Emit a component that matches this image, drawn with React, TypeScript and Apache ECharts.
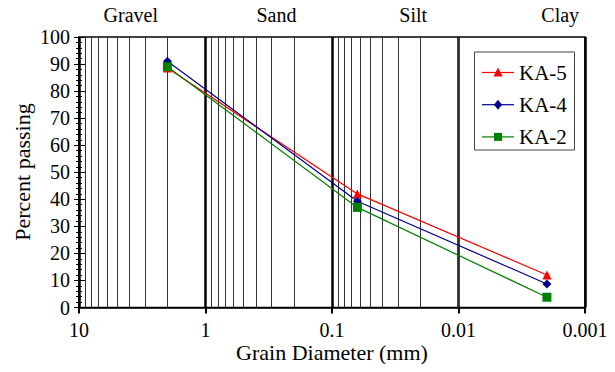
import React, { useEffect, useRef } from "react";
import * as echarts from "echarts";

const diameters = [2, 0.063, 0.002];
const ka5 = [88.5, 42, 12];
const ka4 = [91, 39.3, 8.7];
const ka2 = [89, 37, 3.8];
const seriesNames = ["KA-5", "KA-4", "KA-2"];
const seriesColors = ["#ff0000", "#00008b", "#008000"];
const zoneLabels = ["Gravel", "Sand", "Silt", "Clay"];
const zoneCenters = [3.9, 0.275, 0.0228, 0.00157];
const decades = [10, 1, 0.1, 0.01];
const minorMultipliers = [2, 3, 4, 5, 6, 7, 8, 9];
const xTickValues = [10, 1, 0.1, 0.01, 0.001];
const xTickLabels = ["10", "1", "0.1", "0.01", "0.001"];
const yTickValues = [0, 10, 20, 30, 40, 50, 60, 70, 80, 90, 100];

const FONT = "Liberation Serif";

export default function App() {
  const ref = useRef<HTMLDivElement>(null);
  useEffect(() => {
    const chart = echarts.init(ref.current!, null, { renderer: "svg" });
    const minorLines: any[] = [];
    decades.forEach((d) => {
      minorMultipliers.forEach((m) => {
        minorLines.push({ xAxis: +(d * m / 10).toPrecision(3) });
      });
    });
    const mk = (name: string, data: number[], color: string, symbol: string, size: number) => ({
      name,
      type: "line",
      data: diameters.map((d, i) => [d, data[i]]),
      symbol,
      symbolSize: size,
      itemStyle: { color },
      lineStyle: { color, width: 1.2 },
      z: 5,
    });
    chart.setOption({
      animation: false,
      grid: { left: 79, right: 30, top: 37, bottom: 64.5 },
      xAxis: {
        type: "log",
        logBase: 10,
        min: 0.001,
        max: 10,
        inverse: true,
        axisLine: { lineStyle: { color: "#000", width: 1.5 } },
        axisTick: { show: true, length: 6, lineStyle: { color: "#000", width: 2 } },
        axisLabel: { show: false },
        splitLine: { show: true, lineStyle: { color: "#000", width: 2.5 } },
      },
      yAxis: [
        {
          type: "value",
          min: 0,
          max: 100,
          interval: 10,
          axisLine: { show: true, lineStyle: { color: "#000", width: 1.5 } },
          axisTick: { show: true, length: 5, lineStyle: { color: "#000" } },
          minorTick: { show: true, splitNumber: 5, length: 3, lineStyle: { color: "#000" } },
          axisLabel: { show: false },
          splitLine: { show: false },
        },
        {
          type: "value",
          min: 0,
          max: 100,
          interval: 10,
          position: "left",
          axisLine: { show: false },
          axisTick: { show: true, inside: true, length: 6, lineStyle: { color: "#000" } },
          minorTick: { show: true, splitNumber: 5, length: 3, lineStyle: { color: "#000" } },
          axisLabel: { show: false },
          splitLine: { show: false },
        },
      ],
      series: [
        {
          type: "scatter",
          name: "minor",
          data: [],
          silent: true,
          markLine: {
            silent: true,
            symbol: "none",
            label: { show: false },
            lineStyle: { color: "#333", width: 1, type: "solid" },
            data: minorLines,
          },
        },
        mk("KA-5", ka5, seriesColors[0], "triangle", 9),
        mk("KA-4", ka4, seriesColors[1], "diamond", 9),
        mk("KA-2", ka2, seriesColors[2], "rect", 9),
      ],
    });

    const txt = (text: string, x: number, y: number, size: number, align: string, vAlign: string, rotation = 0) => ({
      type: "text",
      x,
      y,
      rotation,
      z: 20,
      silent: true,
      style: {
        text,
        x: 0,
        y: 0,
        font: size + "px " + FONT,
        fill: "#000",
        align,
        textAlign: align,
        verticalAlign: vAlign,
        textVerticalAlign: vAlign,
      },
    });

    const g: any[] = [
      { type: "rect", shape: { x: 79, y: 37, width: 506, height: 270.5 }, style: { fill: "none", stroke: "#000", lineWidth: 1.5 }, z: 1, silent: true },
    ];
    const axisY = chart.convertToPixel({ yAxisIndex: 0 }, 0) as number;
    const axisX = chart.convertToPixel({ xAxisIndex: 0 }, 10) as number;
    yTickValues.forEach((v) => {
      const py = chart.convertToPixel({ yAxisIndex: 0 }, v) as number;
      g.push(txt(String(v), axisX - 9, py, 20, "right", "middle"));
    });
    xTickValues.forEach((v, i) => {
      const px = chart.convertToPixel({ xAxisIndex: 0 }, v) as number;
      g.push(txt(xTickLabels[i], px, axisY + 22, 20, "center", "middle"));
    });
    zoneLabels.forEach((name, i) => {
      const px = chart.convertToPixel({ xAxisIndex: 0 }, zoneCenters[i]) as number;
      g.push(txt(name, px, 15, 20, "center", "middle"));
    });
    g.push(txt("Grain Diameter (mm)", 332, 352, 22, "center", "middle"));
    g.push(txt("Percent passing", 22, 172, 22, "center", "middle", Math.PI / 2));

    // legend box drawn by hand
    g.push({ type: "rect", z: 15, silent: true, shape: { x: 474.5, y: 52, width: 100, height: 98 }, style: { fill: "#fff", stroke: "#444", lineWidth: 1 } });
    seriesNames.forEach((name, i) => {
      const cy = 72.5 + i * 32.2;
      const c = seriesColors[i];
      g.push({ type: "line", z: 16, silent: true, shape: { x1: 482, y1: cy, x2: 514, y2: cy }, style: { stroke: c, lineWidth: 1.2 } });
      if (i === 0) {
        g.push({ type: "polygon", z: 17, silent: true, shape: { points: [[498, cy - 5], [502.5, cy + 4], [493.5, cy + 4]] }, style: { fill: c } });
      } else if (i === 1) {
        g.push({ type: "polygon", z: 17, silent: true, shape: { points: [[498, cy - 5], [502, cy], [498, cy + 5], [494, cy]] }, style: { fill: c } });
      } else {
        g.push({ type: "rect", z: 17, silent: true, shape: { x: 494, y: cy - 4, width: 8, height: 8 }, style: { fill: c } });
      }
      g.push(txt(name, 519, cy, 21, "left", "middle"));
    });
    chart.setOption({ graphic: g });
    return () => chart.dispose();
  }, []);
  return <div ref={ref} style={{ width: 615, height: 372, margin: -8 }} />;
}
